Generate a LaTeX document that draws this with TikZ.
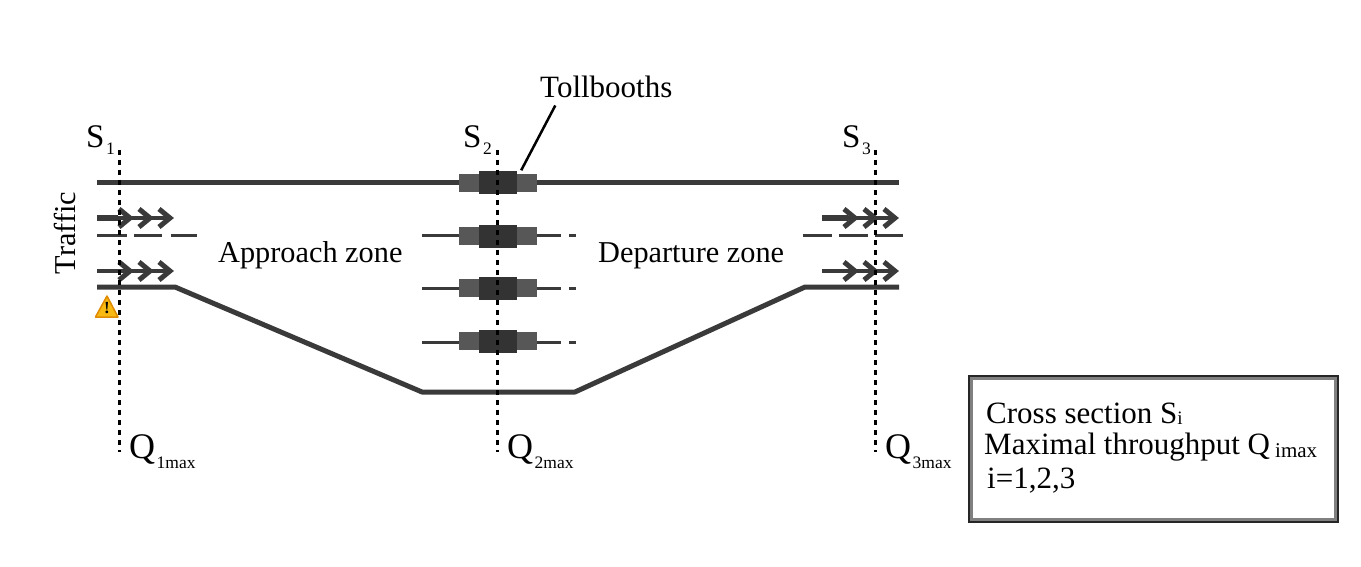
\documentclass[tikz,border=0pt]{standalone}
\usepackage{fontspec}
\setmainfont{Liberation Serif}
\definecolor{roadgray}{HTML}{3A3A3A}
\definecolor{boothouter}{HTML}{575757}
\definecolor{boothinner}{HTML}{333333}
\definecolor{signyellow}{HTML}{F8B912}
\definecolor{signorange}{HTML}{E08A00}
\newcommand\bigtext{\fontsize{30.3}{34}\selectfont}
\newcommand\hugetext{\fontsize{36}{40}\selectfont}
\newcommand\lowered[2]{\kern1.5pt\raisebox{-#1pt}{\fontsize{17.5}{20}\selectfont #2}}
\tikzset{
	road/.style = {draw = roadgray, line width = 5pt, line join = round},
	lanemark/.style = {draw = roadgray, line width = 3pt},
	section/.style = {draw = black, line width = 3pt, dash pattern = on 5pt off 5pt},
	label/.style = {anchor = base west, inner sep = 0pt, font = \bigtext},
	sectionlabel/.style = {label, font = \fontsize{33}{36}\selectfont},
	maxlabel/.style = {label, font = \hugetext},
	boxlabel/.style = {label, font = \fontsize{31}{34}\selectfont},
	boothbig/.style = {fill = boothouter, minimum width = 78pt, minimum height = 18pt, inner sep = 0pt},
	boothsmall/.style = {fill = boothinner, minimum width = 38pt, minimum height = 23pt, inner sep = 0pt},
}
\begin{document}
\begin{tikzpicture}[x = 1pt, y = 1pt, yscale = -1]
	\useasboundingbox (0, 0) rectangle (1361, 567);

	% Road edges:
	\draw [road] (97, 183) -- (899, 183);
	\draw [road] (97, 287) -- (175, 287) -- (422, 392) -- (575, 392) -- (805, 287) -- (899, 287);

	% Lane marks:
	\foreach \a/\b in {97/127, 134/162, 171/197, 803/832, 839/868, 875/903} {
		\draw [lanemark] (\a, 235) -- (\b, 235);
	}
	\foreach \y in {235, 288, 342} {
		\foreach \a/\b in {422/451, 451/561, 569/576} {
			\draw [lanemark] (\a, \y) -- (\b, \y);
		}
	}

	% Tollbooths
	\foreach \y/\name in {183/top, 236/second, 288/third, 341/fourth} {
		\node [boothbig] (outer\name) at (498, \y) {};
		\node [boothsmall] (booth\name) at (498, \y) {};
	}

	% Traffic
	\foreach \a/\t/\y/\w/\e in {97/133/218/6.5/118, 97/133/271/4.5/118, 822/858/218/6.5/848, 822/858/271/4.5/848} {
		\draw [roadgray, line width = \w pt] (\a, \y) -- (\e, \y);
		\draw [roadgray, line width = 4pt] (\e, \y) -- (\t+36, \y);
		\foreach \d in {0, 20, 40} {
			\draw [roadgray, line width = 5pt] (\t+\d-14, \y-9) -- (\t+\d-3, \y) -- (\t+\d-14, \y+9);
		}
	}

	% Cross sections:
	\foreach \x in {119, 497, 875} {
		\draw [section] (\x, 150) -- (\x, 452);
	}

	% Warning sign
	\draw [fill = signyellow, draw = signorange, line width = 1.5pt, line join = round] (107, 296) -- (118, 317) -- (95.5, 317) -- cycle;
	\node [inner sep = 0pt, font = \fontsize{17}{17}\selectfont\bfseries] (warning) at (107, 308) {!};

	% Labels
	\node [label, font = \fontsize{31}{34}\selectfont] (tollbooths) at (540, 98) {Tollbooths};
	\draw [line width = 2.5pt] ([xshift = -51pt, yshift = 7pt]tollbooths.south) -- ([xshift = 4pt, yshift = -1pt]boothtop.north east);
	\node [sectionlabel] (s1) at (86, 148) {S\lowered{7}{1}};
	\node [sectionlabel] (s2) at (463, 148) {S\lowered{7}{2}};
	\node [sectionlabel] (s3) at (842, 148) {S\lowered{7}{3}};
	\node [maxlabel] (q1) at (129, 458) {Q\lowered{10}{1max}};
	\node [maxlabel] (q2) at (507, 458) {Q\lowered{10}{2max}};
	\node [maxlabel] (q3) at (885, 458) {Q\lowered{10}{3max}};
	\node [label] (approach) at (218, 262) {Approach zone};
	\node [label] (departure) at (598, 262) {Departure zone};
	\node [inner sep = 0pt, font = \bigtext, rotate = 90] (traffic) at (65, 233) {Traffic};

	% Legend
	\node [draw = gray, line width = 5pt, outer sep = 0pt, minimum width = 366pt, minimum height = 143pt, inner sep = 0pt] (legend) at (1153.5, 449) {};
	\draw [draw = black!85, line width = 2.5pt] ([shift = {(-1.5, -1.5)}]legend.north west) rectangle ([shift = {(1.5, 1.5)}]legend.south east);
	\node [boxlabel] (crosssection) at (986, 423) {Cross section S\raisebox{-1pt}{\fontsize{19}{21}\selectfont i}};
	\node [boxlabel] (throughput) at (984, 454) {Maximal throughput Q\,\raisebox{-3pt}{\fontsize{21}{23}\selectfont imax}};
	\node [boxlabel] (indices) at (987, 488) {i=1,2,3};
\end{tikzpicture}
\end{document}
